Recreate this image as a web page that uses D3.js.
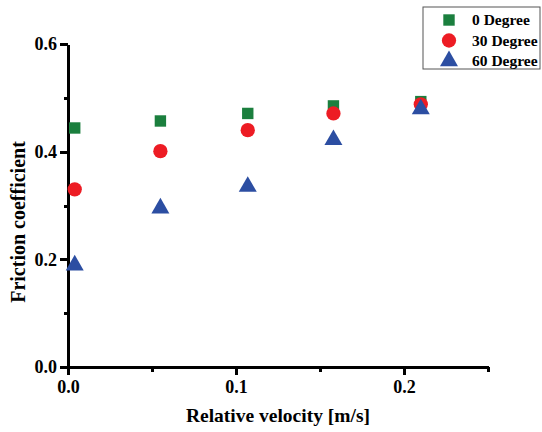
<!DOCTYPE html>
<html>
<head>
<meta charset="utf-8">
<script src="https://cdn.jsdelivr.net/npm/d3@7"></script>
<style>
  body { margin: 0; background: #fff; }
  text { font-family: "Liberation Serif", "Times New Roman", serif; font-weight: bold; }
</style>
</head>
<body>
<svg id="chart"></svg>
<script>
// data
let velocity = [0.004, 0.055, 0.107, 0.158, 0.210];
let deg0  = [0.444, 0.457, 0.471, 0.485, 0.493];
let deg30 = [0.330, 0.401, 0.440, 0.471, 0.488];
let deg60 = [0.189, 0.295, 0.335, 0.422, 0.479];
let seriesNames = ["0 Degree", "30 Degree", "60 Degree"];
let xTicks = [0, 0.1, 0.2];
let yTicks = [0, 0.2, 0.4, 0.6];

let colors = ["#1b7f3e", "#ed1c24", "#2c4ea2"];
let shapes = [d3.symbolSquare, d3.symbolCircle, d3.symbolTriangle];
let sizes = [130, 160, 140];

let margin = {top: 44, right: 54, bottom: 65, left: 68},
  width = 542 - margin.left - margin.right,
  height = 432 - margin.top - margin.bottom;

let svg = d3.select("#chart")
  .attr("width", 542)
  .attr("height", 432)
  .append("g")
    .attr("transform", "translate(" + margin.left + "," + margin.top + ")");

let x = d3.scaleLinear().domain([0, 0.25]).range([0, width]);
let y = d3.scaleLinear().domain([0, 0.6]).range([height, 0]);

function blackAxis(g) {
  g.attr("fill", "none").attr("color", "#000");
  g.selectAll("path, line")
    .style("stroke", "#000")
    .style("stroke-width", "3px")
    .style("shape-rendering", "crispEdges");
}

// minor ticks
svg.append("g")
    .attr("transform", "translate(0," + height + ")")
    .call(d3.axisBottom(x).tickValues([0.05, 0.15, 0.25]).tickSize(5).tickFormat(""))
    .call(g => g.select(".domain").remove())
    .call(blackAxis);
svg.append("g")
    .call(d3.axisLeft(y).tickValues([0.1, 0.3, 0.5]).tickSize(4).tickFormat(""))
    .call(g => g.select(".domain").remove())
    .call(blackAxis);

// major axes
svg.append("g")
    .attr("transform", "translate(0," + height + ")")
    .call(d3.axisBottom(x).tickValues(xTicks).tickSize(8).tickSizeOuter(0).tickPadding(5).tickFormat(d3.format(".1f")))
    .call(blackAxis)
    .call(g => g.selectAll("text").attr("fill", "#000").attr("font-size", 18).attr("font-family", "Liberation Serif").attr("font-weight", "bold"));

svg.append("g")
    .call(d3.axisLeft(y).tickValues(yTicks).tickSize(8).tickSizeOuter(0).tickPadding(3).tickFormat(d3.format(".1f")))
    .call(blackAxis)
    .call(g => g.selectAll("text").attr("fill", "#000").attr("font-size", 18).attr("font-family", "Liberation Serif").attr("font-weight", "bold"));

// points
[deg0, deg30, deg60].forEach(function(vals, i) {
  svg.append("g").selectAll("path")
    .data(vals)
    .enter().append("path")
      .attr("transform", function(d, j) { return "translate(" + x(velocity[j]) + "," + y(d) + ")"; })
      .attr("d", d3.symbol().type(shapes[i]).size(sizes[i]))
      .attr("fill", colors[i]);
});

// axis titles
svg.append("text")
    .attr("x", width / 2)
    .attr("y", 422 - margin.top)
    .attr("text-anchor", "middle")
    .attr("font-size", 19.5)
    .text("Relative velocity [m/s]");

svg.append("text")
    .attr("transform", "translate(" + (25 - margin.left) + "," + (222 - margin.top) + ") rotate(-90)")
    .attr("text-anchor", "middle")
    .attr("font-size", 20)
    .text("Friction coefficient");

// legend
let legend = svg.append("g").attr("transform", "translate(" + (423 - margin.left) + "," + (7 - margin.top) + ")");
legend.append("rect")
    .attr("width", 117)
    .attr("height", 62)
    .attr("fill", "#fff")
    .attr("stroke", "#555")
    .attr("stroke-width", 1);
seriesNames.forEach(function(name, i) {
  legend.append("path")
    .attr("transform", "translate(26," + (13 + i * 20.5) + ")")
    .attr("d", d3.symbol().type(shapes[i]).size(sizes[i]))
    .attr("fill", colors[i]);
  legend.append("text")
    .attr("x", 49)
    .attr("y", 13 + i * 20.5)
    .attr("dy", "0.35em")
    .attr("font-size", 15.5)
    .text(name);
});
</script>
</body>
</html>
